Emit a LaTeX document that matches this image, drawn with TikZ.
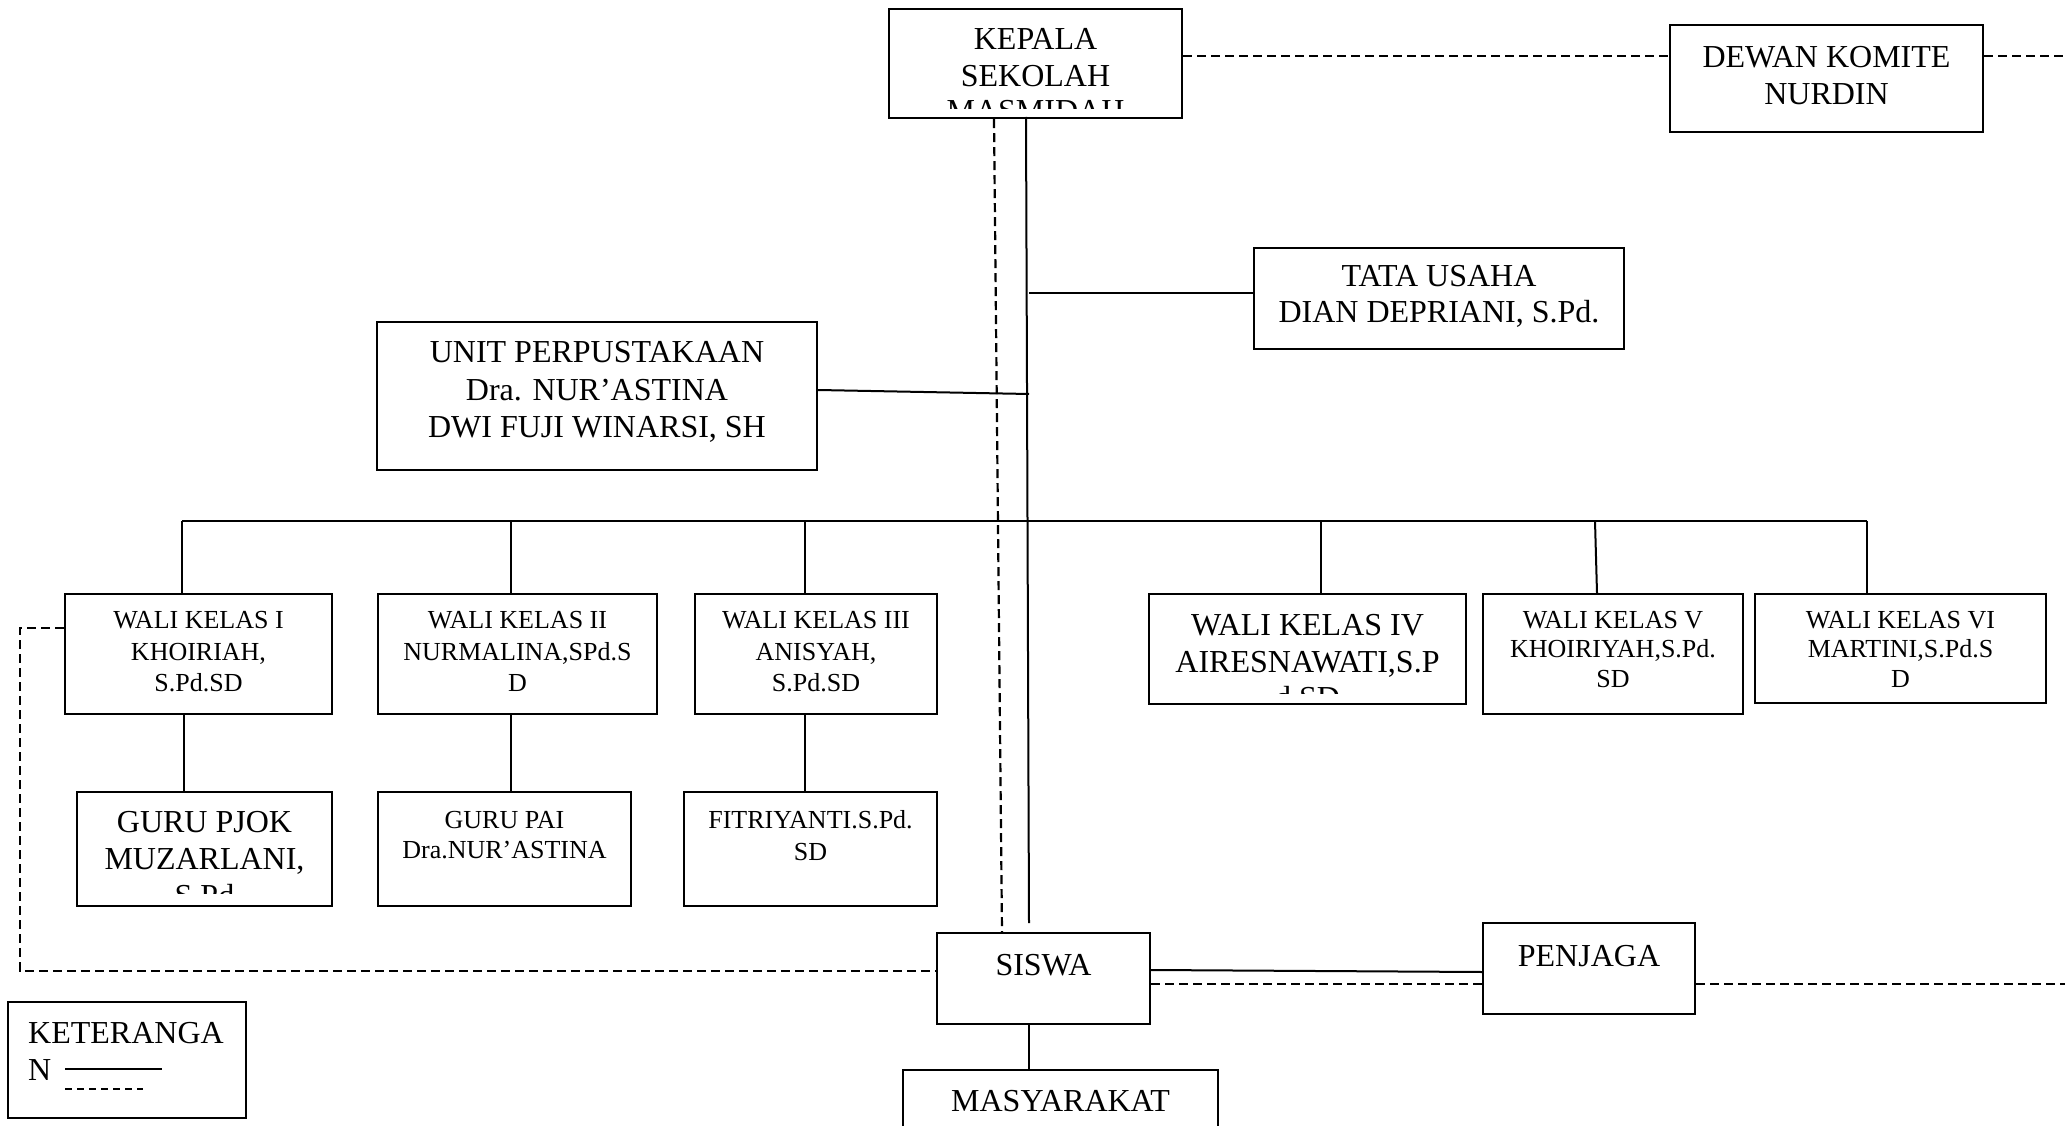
\documentclass[tikz,border=0pt]{standalone}
\usepackage{fontspec}
\setmainfont{Liberation Serif}
\begin{document}
\begin{tikzpicture}[x=1pt,y=-1pt,
  box/.style={draw, line width=2.3pt, inner sep=0pt},
  solidln/.style={line width=2pt},
  dashln/.style={line width=2.2pt, dash pattern=on 9pt off 5pt},
  fa/.style={font=\fontsize{32}{38}\selectfont, anchor=base, inner sep=0pt},
  fb/.style={font=\fontsize{26}{31}\selectfont, anchor=base, inner sep=0pt},
  fbw/.style={font=\fontsize{32}{38}\selectfont, anchor=base west, inner sep=0pt},
]
\useasboundingbox (0,0) rectangle (2065,1126);
\clip (0,0) rectangle (2065,1126);

% ---------- boxes ----------
\node[box, minimum width=293, minimum height=109] (kepala) at (1035.5,63.5) {};
\node[box, minimum width=313, minimum height=107] (dewan) at (1826.5,78.5) {};
\node[box, minimum width=370, minimum height=101] (tata) at (1439,298.5) {};
\node[box, minimum width=440, minimum height=148] (unit) at (597,396) {};
\node[box, minimum width=267, minimum height=120] (w1) at (198.5,654) {};
\node[box, minimum width=279, minimum height=120] (w2) at (517.5,654) {};
\node[box, minimum width=242, minimum height=120] (w3) at (816,654) {};
\node[box, minimum width=317, minimum height=110] (w4) at (1307.5,649) {};
\node[box, minimum width=260, minimum height=120] (w5) at (1613,654) {};
\node[box, minimum width=291, minimum height=109] (w6) at (1900.5,648.5) {};
\node[box, minimum width=255, minimum height=114] (pjok) at (204.5,849) {};
\node[box, minimum width=253, minimum height=114] (pai) at (504.5,849) {};
\node[box, minimum width=253, minimum height=114] (fitri) at (810.5,849) {};
\node[box, minimum width=213, minimum height=91] (siswa) at (1043.5,978.5) {};
\node[box, minimum width=212, minimum height=91] (penjaga) at (1589,968.5) {};
\node[box, minimum width=315, minimum height=70] (masy) at (1060.5,1105) {};
\node[box, minimum width=238, minimum height=116] (ket) at (127,1060) {};

% ---------- texts ----------
\node[fa] (kp1) at (1035.5,50) {KEPALA};
\node[fa] (kp2) at (1035.5,87) {SEKOLAH};
\begin{scope}
  \clip (889,9) rectangle (1182,109);
  \node[fa] (kp3) at (1035.5,122) {MASMIDAH};
\end{scope}
\node[fa] (dw1) at (1826.5,68) {DEWAN KOMITE};
\node[fa] (dw2) at (1826.5,105) {NURDIN};
\node[fa] (tu1) at (1439,287) {TATA USAHA};
\node[fa] (tu2) at (1439,323) {DIAN DEPRIANI, S.Pd.};
\node[fa] (up1) at (597,362) {UNIT PERPUSTAKAAN};
\node[fa] (up2) at (597,400) {Dra. NUR’ASTINA};
\node[fa] (up3) at (597,437) {DWI FUJI WINARSI, SH};

\node[fb] (w1a) at (198.5,628) {WALI KELAS I};
\node[fb] (w1b) at (198.5,660) {KHOIRIAH,};
\node[fb] (w1c) at (198.5,691) {S.Pd.SD};
\node[fb] (w2a) at (517.5,628) {WALI KELAS II};
\node[fb] (w2b) at (517.5,660) {NURMALINA,SPd.S};
\node[fb] (w2c) at (517.5,691) {D};
\node[fb] (w3a) at (816,628) {WALI KELAS III};
\node[fb] (w3b) at (816,660) {ANISYAH,};
\node[fb] (w3c) at (816,691) {S.Pd.SD};
\node[fa] (w4a) at (1307.5,635) {WALI KELAS IV};
\node[fa] (w4b) at (1307.5,672) {AIRESNAWATI,S.P};
\begin{scope}
  \clip (1149,594) rectangle (1466,693);
  \node[fa] (w4c) at (1307.5,708) {d.SD};
\end{scope}
\node[fb] (w5a) at (1613,628) {WALI KELAS V};
\node[fb] (w5b) at (1613,657) {KHOIRIYAH,S.Pd.};
\node[fb] (w5c) at (1613,687) {SD};
\node[fb] (w6a) at (1900.5,628) {WALI KELAS VI};
\node[fb] (w6b) at (1900.5,657) {MARTINI,S.Pd.S};
\node[fb] (w6c) at (1900.5,687) {D};

\node[fa] (pj1) at (204.5,832) {GURU PJOK};
\node[fa] (pj2) at (204.5,869) {MUZARLANI,};
\begin{scope}
  \clip (77,792) rectangle (332,893);
  \node[fa] (pj3) at (204.5,906) {S.Pd};
\end{scope}
\node[fb] (pa1) at (504.5,828) {GURU PAI};
\node[fb] (pa2) at (504.5,858) {Dra.NUR’ASTINA};
\node[fb] (fi1) at (810.5,828) {FITRIYANTI.S.Pd.};
\node[fb] (fi2) at (810.5,860) {SD};

\node[fa] (sw) at (1043.5,975) {SISWA};
\node[fa] (pg) at (1589,966) {PENJAGA};
\node[fa] (ms) at (1060.5,1111) {MASYARAKAT};
\node[fbw] (kt1) at (28,1043) {KETERANGA};
\node[fbw] (kt2) at (28,1080) {N};
\draw[line width=1.6pt] (65,1069) -- (162,1069);
\draw[line width=1.6pt, dash pattern=on 7pt off 5pt] (65,1089) -- (143,1089);

% ---------- connector points ----------
\coordinate (spineTop) at (1026,117);
\coordinate (spineEnd) at (1029,923);
\coordinate (busL) at (182,521);
\coordinate (busR) at (1867,521);
\coordinate (tataJ) at (1029,293);
\coordinate (unitJ) at (1029,394);
\coordinate (leftTop) at (20,628);
\coordinate (leftBot) at (20,971);
\coordinate (rightEnd) at (2065,984);
\coordinate (topEnd) at (2065,56);

% ---------- solid connectors ----------
\draw[solidln] (spineTop) -- (spineEnd);
\draw[solidln] (tataJ) -- (tata.west |- tataJ);
\draw[solidln] (unit.east |- 0,390) -- (unitJ);
\draw[solidln] (busL) -- (busR);
\draw[solidln] (busL) -- (w1.north -| busL);
\draw[solidln] (511,521) -- (w2.north -| 511,0);
\draw[solidln] (805,521) -- (w3.north -| 805,0);
\draw[solidln] (1321,521) -- (w4.north -| 1321,0);
\draw[solidln] (1595,521) -- (w5.north -| 1597,0);
\draw[solidln] (busR) -- (w6.north -| busR);
\draw[solidln] (w1.south -| 184,0) -- (pjok.north -| 184,0);
\draw[solidln] (w2.south -| 511,0) -- (pai.north -| 511,0);
\draw[solidln] (w3.south -| 805,0) -- (fitri.north -| 805,0);
\draw[solidln] (siswa.east |- 0,970) -- (penjaga.west |- 0,972);
\draw[solidln] (siswa.south -| 1029,0) -- (masy.north -| 1029,0);

% ---------- dashed connectors ----------
\draw[dashln] (kepala.east |- 0,56) -- (dewan.west |- 0,56);
\draw[dashln] (dewan.east |- 0,56) -- (topEnd);
\draw[dashln] (kepala.south -| 994,0) -- (siswa.north -| 1002,0);
\draw[dashln] (w1.west |- leftTop) -- (leftTop) -- (leftBot) -- (siswa.west |- leftBot);
\draw[dashln] (siswa.east |- 0,984) -- (penjaga.west |- 0,984);
\draw[dashln] (penjaga.east |- 0,984) -- (rightEnd);
\end{tikzpicture}
\end{document}
